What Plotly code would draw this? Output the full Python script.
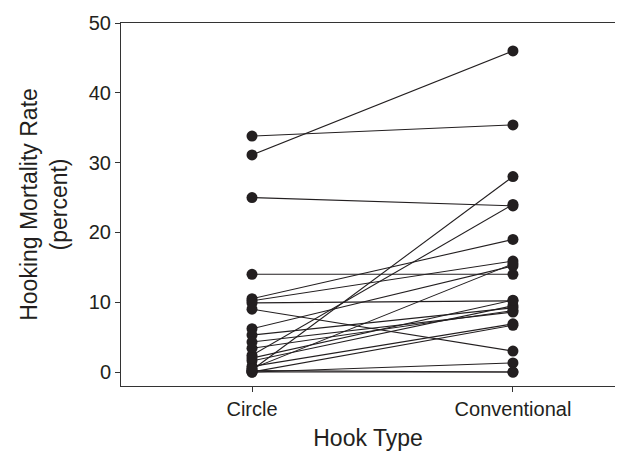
import plotly.graph_objects as go

categories = ["Circle", "Conventional"]
circle_vals = [33.8, 31.1, 25.0, 14.0, 10.5, 10.2, 9.9, 9.0, 6.2, 5.3, 4.3, 3.4,
               2.4, 1.6, 0.8, 0.3, 0.0, 0.0, 0.0, 0.2, 0.5, 2.0]
conv_vals = [35.4, 46.0, 23.8, 14.0, 19.0, 15.9, 10.2, 3.0, 15.2, 9.2, 8.6, 8.8,
             24.0, 9.5, 6.9, 28.0, 6.7, 1.3, 0.0, 0.0, 15.5, 10.3]
y_ticks = [0, 10, 20, 30, 40, 50]

xs, ys = [], []
for c, v in zip(circle_vals, conv_vals):
    xs += [0, 1, None]
    ys += [c, v, None]

ink = "#231f20"
fig = go.Figure()
fig.add_trace(go.Scatter(x=xs, y=ys, mode="lines+markers",
                         line=dict(color=ink, width=1.1),
                         marker=dict(color=ink, size=11),
                         connectgaps=False, showlegend=False, hoverinfo="skip"))

fig.update_layout(
    width=634, height=458,
    margin=dict(l=121, r=19, t=20, b=72),
    plot_bgcolor="white", paper_bgcolor="white",
    font=dict(family="Liberation Sans, Arial, sans-serif", color=ink, size=20),
    xaxis=dict(range=[-0.502, 1.391], tickvals=[0, 1], ticktext=categories,
               showline=True, mirror=True, linecolor="#333", linewidth=1,
               ticks="outside", ticklen=5, tickcolor="#333", showgrid=False,
               zeroline=False,
               title=dict(text="Hook Type", font=dict(size=23), standoff=10)),
    yaxis=dict(range=[-2, 50], tickvals=y_ticks,
               showline=True, linecolor="#333", linewidth=1,
               ticks="outside", ticklen=5, tickcolor="#333", showgrid=False,
               zeroline=False,
               title=dict(text="Hooking Mortality Rate<br>(percent)",
                          font=dict(size=23), standoff=14)),
)

fig.write_html("out.html")
